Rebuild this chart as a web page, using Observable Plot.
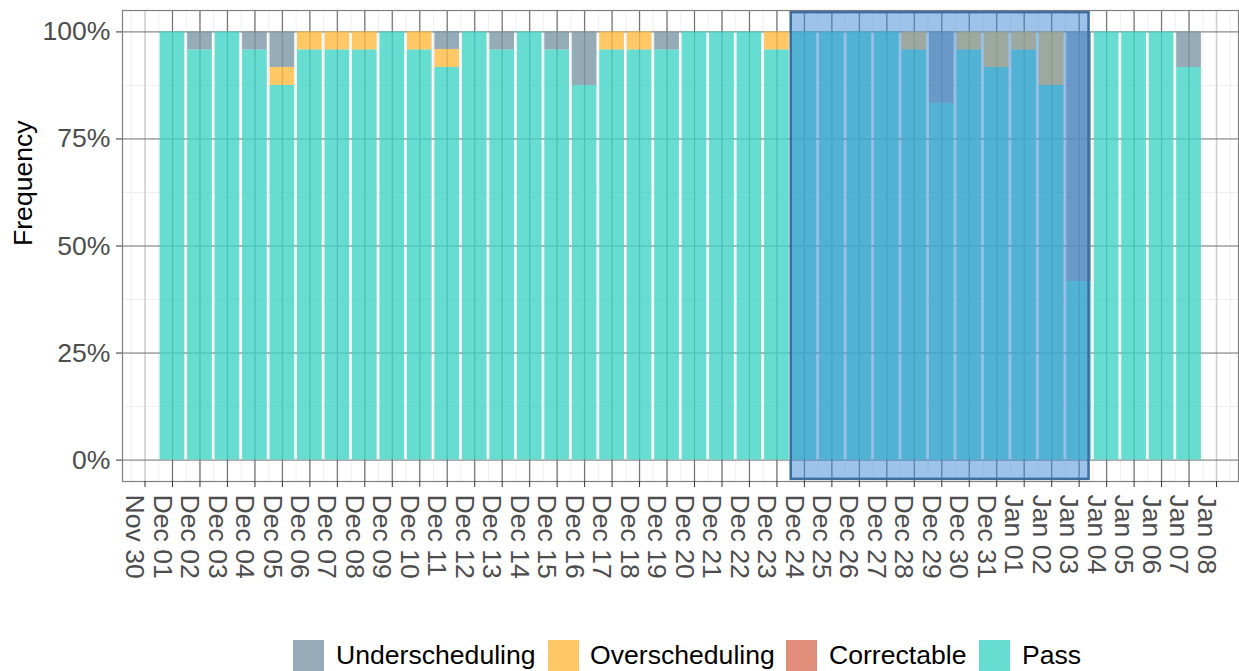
<!DOCTYPE html>
<html><head><meta charset="utf-8">
<script src="https://cdn.jsdelivr.net/npm/d3@7"></script>
<script src="https://cdn.jsdelivr.net/npm/@observablehq/plot@0.6"></script>
<style>
body{margin:0;background:#fff;font-family:"Liberation Sans",Arial,sans-serif;}
#wrap{position:relative;width:1239px;height:671px;overflow:hidden;background:#fff}
#legend{position:absolute;left:0;top:640px;width:1239px;height:31px;font-size:26.6px;color:#000;white-space:nowrap}
.sw{position:absolute;top:0;width:31px;height:31px}
.lab{position:absolute;top:0;line-height:31px}
</style></head><body><div id="wrap"><div id="chart"></div><div id="legend"></div></div>
<script>
// x tick labels (day index 0 = Nov 30)
const tickLabels = ["Nov 30","Dec 01","Dec 02","Dec 03","Dec 04","Dec 05","Dec 06","Dec 07","Dec 08","Dec 09","Dec 10",
  "Dec 11","Dec 12","Dec 13","Dec 14","Dec 15","Dec 16","Dec 17","Dec 18","Dec 19","Dec 20","Dec 21","Dec 22","Dec 23",
  "Dec 24","Dec 25","Dec 26","Dec 27","Dec 28","Dec 29","Dec 30","Dec 31","Jan 01","Jan 02","Jan 03","Jan 04","Jan 05",
  "Jan 06","Jan 07","Jan 08"];
// bar days (Dec 01 .. Jan 07)
const dates = ["Dec 01","Dec 02","Dec 03","Dec 04","Dec 05","Dec 06","Dec 07","Dec 08","Dec 09","Dec 10",
  "Dec 11","Dec 12","Dec 13","Dec 14","Dec 15","Dec 16","Dec 17","Dec 18","Dec 19","Dec 20","Dec 21","Dec 22","Dec 23",
  "Dec 24","Dec 25","Dec 26","Dec 27","Dec 28","Dec 29","Dec 30","Dec 31","Jan 01","Jan 02","Jan 03","Jan 04","Jan 05",
  "Jan 06","Jan 07"];
const categories = ["Underscheduling","Overscheduling","Correctable","Pass"];
const categoryColors = ["#7c96a6","#feba40","#d87259","#40d5c4"];
const legendColors = ["#96abb8","#fec866","#e08e7a","#66ddd0"];
// values in percent
const pass = [100,95.8,100,95.8,87.5,95.8,95.8,95.8,100,95.8,91.7,100,95.8,100,95.8,87.5,95.8,95.8,95.8,100,100,100,95.8,
  100,100,100,100,95.8,83.3,95.8,91.7,95.8,87.5,41.7,100,100,100,91.7];
const correctable = [0,0,0,0,0,0,0,0,0,0,0,0,0,0,0,0,0,0,0,0,0,0,0,0,0,0,0,0,0,0,0,0,0,0,0,0,0,0];
const over = [0,0,0,0,4.2,4.2,4.2,4.2,0,4.2,4.2,0,0,0,0,0,4.2,4.2,0,0,0,0,4.2,
  0,0,0,0,4.2,0,4.2,8.3,4.2,12.5,0,0,0,0,0];
const under = [0,4.2,0,4.2,8.3,0,0,0,0,0,4.2,0,4.2,0,4.2,12.5,0,0,4.2,0,0,0,0,
  0,0,0,0,0,16.7,0,0,0,0,58.3,0,0,0,8.3];
const yTicks = [0,25,50,75,100];
const yMinor = [12.5,37.5,62.5,87.5];
// highlighted period (day index units)
const highlightFrom = 23.52, highlightTo = 34.36;

const tickIdx = tickLabels.map((_, i) => i);
const dayIdx = dates.map(d => tickLabels.indexOf(d));
const halfDays = d3.range(-0.5, tickLabels.length, 1);

const rows = [];
dates.forEach((d, i) => {
  let base = 0;
  for (const [cat, arr] of [["Pass", pass], ["Correctable", correctable], ["Overscheduling", over], ["Underscheduling", under]]) {
    const v = arr[i];
    if (v > 0) rows.push({k: dayIdx[i], cat, y1: base, y2: base + v});
    base += v;
  }
});

const font = "'Liberation Sans', Arial, sans-serif";
const fs = 26.6;
const chart = Plot.plot({
  width: 1239, height: 625,
  marginLeft: 122, marginRight: 1, marginTop: 10, marginBottom: 144,
  x: {type: "linear", domain: [-0.82, 39.8]},
  y: {domain: [-5, 105]},
  color: {domain: categories, range: categoryColors},
  style: {fontFamily: font, background: "white"},
  marks: [
    Plot.ruleX(halfDays, {x: d => d, stroke: "#ebebeb", strokeWidth: 0.8}),
    Plot.ruleY(yMinor, {y: d => d, stroke: "#ebebeb", strokeWidth: 0.8}),
    Plot.ruleX(tickIdx, {x: d => d, stroke: "#cfcfcf", strokeWidth: 1.6}),
    Plot.ruleX(dayIdx, {x: d => d, stroke: "#6e6e6e", strokeWidth: 1}),
    Plot.ruleY(yTicks, {y: d => d, stroke: "#6e6e6e", strokeWidth: 1}),
    Plot.rect(rows, {x1: d => d.k - 0.45, x2: d => d.k + 0.45, y1: "y1", y2: "y2", fill: "cat", fillOpacity: 0.8}),
    Plot.rect([{a: highlightFrom, b: highlightTo}], {x1: "a", x2: "b", y1: () => -4.5, y2: () => 104.5,
      fill: "#3c88d6", fillOpacity: 0.5, stroke: "#3d6c9e", strokeWidth: 2.5}),
    Plot.frame({stroke: "#7f7f7f", strokeWidth: 1.2}),
    Plot.axisY({ticks: yTicks, tickFormat: d => `${d}%`, tickSize: 6, tickPadding: 6, fontSize: fs,
      stroke: "#333", fill: "#4d4d4d", label: null}),
    Plot.axisX({ticks: tickIdx, tickFormat: () => "", tickSize: 6, stroke: "#333", label: null}),
    Plot.text(tickIdx, {x: d => d, text: d => tickLabels[d], frameAnchor: "bottom", dy: 13, rotate: 90,
      textAnchor: "start", lineAnchor: "top", fontSize: fs, fill: "#4d4d4d"}),
    Plot.text(["Frequency"], {frameAnchor: "left", dx: -99, rotate: -90, fontSize: fs, fill: "#000"})
  ]
});
document.getElementById("chart").appendChild(chart);

const legend = document.getElementById("legend");
const swatchX = [293, 548, 786, 979];
const labelX = [336, 590, 829, 1022];
categories.forEach((c, i) => {
  const s = document.createElement("div"); s.className = "sw"; s.style.background = legendColors[i]; s.style.left = swatchX[i] + "px";
  const t = document.createElement("div"); t.className = "lab"; t.textContent = c; t.style.left = labelX[i] + "px";
  legend.appendChild(s); legend.appendChild(t);
});
</script></body></html>
